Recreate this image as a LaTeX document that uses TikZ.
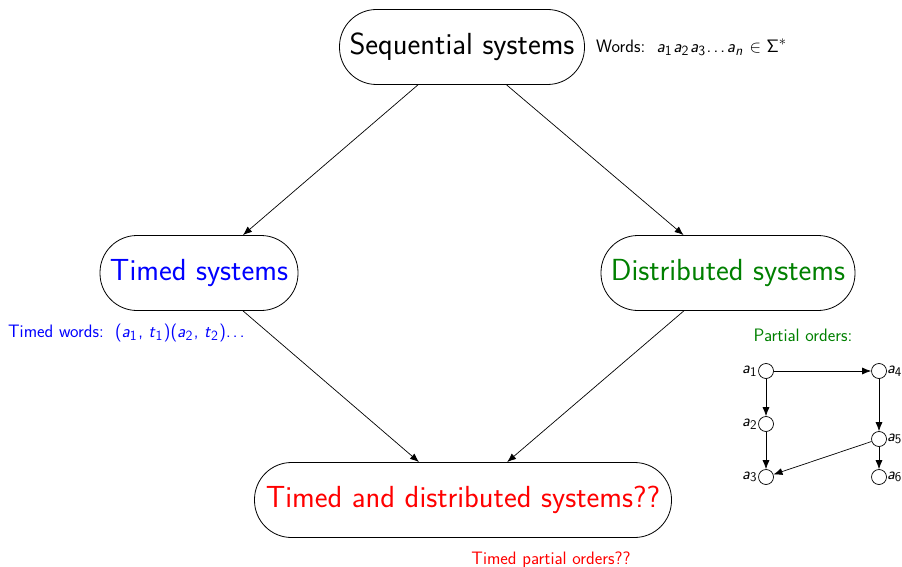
\documentclass[tikz,border=0pt]{standalone}
\usetikzlibrary{arrows.meta}
\renewcommand{\familydefault}{\sfdefault}
\makeatletter
% smaller sans text, relative to the surrounding size
\newcommand{\smallsans}{\fontsize{\fpeval{0.78*\f@size}}{1}\selectfont}
\makeatother
% letter with a sans subscript / superscript
\newcommand{\lsub}[2]{\textit{#1}\raisebox{-0.35ex}{\smallsans #2}\kern0.08em}
\newcommand{\lsup}[1]{\raisebox{0.9ex}{\smallsans #1}}
\newcommand{\tdots}{.\kern0.12em.\kern0.12em.\kern0.1em}
\begin{document}
\begin{tikzpicture}[x=1pt,y=-1pt,
  sysbox/.style={rectangle,rounded corners=37pt,draw,line width=0.8pt,minimum height=75pt,inner sep=0pt,font=\fontsize{30.5}{36}\selectfont},
  note/.style={font=\fontsize{18}{21}\selectfont,inner sep=0pt},
  flow/.style={-{Latex[length=9pt,width=7pt]},line width=0.7pt},
  ev/.style={circle,draw,line width=0.7pt,minimum size=15pt,inner sep=0pt},
  evlab/.style={font=\fontsize{17}{20}\selectfont,inner sep=0pt},
  ord/.style={-{Latex[length=9pt,width=7pt]},line width=0.7pt}]
\useasboundingbox (0,0) rectangle (902,567);

% main systems
\node[sysbox,minimum width=245pt] (seq) at (462,47) {Sequential systems};
\node[sysbox,minimum width=198pt,text=blue] (timed) at (199,273) {Timed systems};
\node[sysbox,minimum width=254pt,text=green!50!black] (dist) at (728,273) {Distributed systems};
\node[sysbox,minimum width=417pt,text=red] (td) at (463,500) {Timed and distributed systems??};

\draw[flow] (seq) -- (timed);
\draw[flow] (seq) -- (dist);
\draw[flow] (timed) -- (td);
\draw[flow] (dist) -- (td);

% annotations
\node[note,anchor=west] (wlab) at (596,47) {Words:\ \ \lsub{a}{1}\lsub{a}{2}\lsub{a}{3}\tdots\lsub{a}{\textit{n}}\ $\in$\ Σ\lsup{$*$}};
\node[note,anchor=west,text=blue] (twlab) at (8,333) {Timed words:\ \ (\lsub{a}{1}, \lsub{t}{1})(\lsub{a}{2}, \lsub{t}{2})\tdots};
\node[note,text=green!50!black] (polab) at (803,335) {Partial orders:};
\node[note,text=red] (tpolab) at (551,560) {Timed partial orders??};

% partial order example
\node[ev] (a1) at (766,371) {};
\node[ev] (a2) at (766,424) {};
\node[ev] (a3) at (766,477) {};
\node[ev] (a4) at (879,371) {};
\node[ev] (a5) at (879,439) {};
\node[ev] (a6) at (879,477) {};
\foreach \n in {1,2,3} \node[evlab,anchor=east] at (a\n.west) {\lsub{a}{\n}};
\foreach \n in {4,5,6} \node[evlab,anchor=west] at (a\n.east) {\lsub{a}{\n}};
\draw[ord] (a1) -- (a4);
\draw[ord] (a1) -- (a2);
\draw[ord] (a2) -- (a3);
\draw[ord] (a4) -- (a5);
\draw[ord] (a5) -- (a3);
\draw[ord] (a5) -- (a6);
\end{tikzpicture}
\end{document}
